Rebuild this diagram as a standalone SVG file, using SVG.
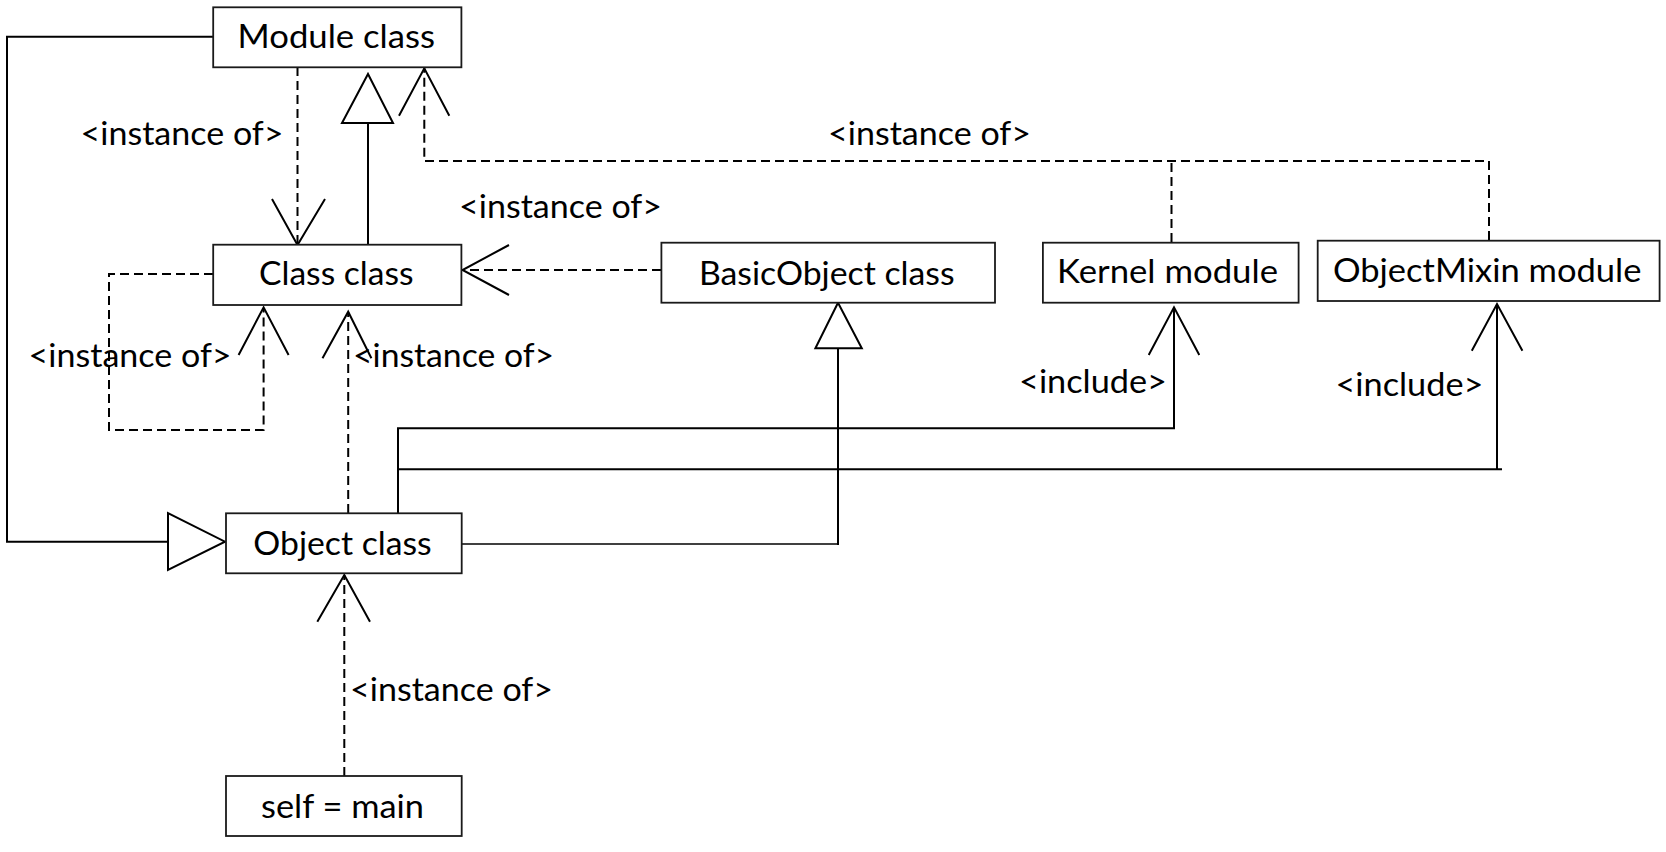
<svg xmlns="http://www.w3.org/2000/svg" width="1666" height="852" viewBox="0 0 1666 852">
<style>
.box{fill:#fff;stroke:#1a1a1a;stroke-width:1.8}
.t{font-family:Lato,"Liberation Sans",sans-serif;font-size:33px;fill:#000;text-anchor:middle}
.l{font-family:Lato,"Liberation Sans",sans-serif;font-size:33px;fill:#000}
.s{fill:none;stroke:#000;stroke-width:2}
.thin{fill:none;stroke:#000;stroke-width:1.3}
.d{fill:none;stroke:#000;stroke-width:2;stroke-dasharray:9,5}
.tri{fill:#fff;stroke:#000;stroke-width:2;stroke-linejoin:miter}
</style>
<rect width="1666" height="852" fill="#fff"/>
<g id="connectors">
  <!-- Module class left line to Object class triangle -->
  <path class="s" d="M213 36.7 H7 V541.7 H168"/>
  <polygon class="tri" points="168,513 168,570 225,541.7"/>
  <!-- Module -> Class instance of -->
  <path class="d" d="M297.5 67 V245"/>
  <path class="s" d="M272 199 L297.5 245 L325 199"/>
  <!-- Class -> Module generalization -->
  <path class="s" d="M368 245 V123"/>
  <polygon class="tri" points="342,123 393,123 368,74"/>
  <!-- Kernel / ObjectMixin -> Module instance of -->
  <path class="d" d="M1171.5 242 V161"/>
  <path class="d" d="M1489 240 V161 H424.3 V68.3"/>
  <path class="s" d="M399 115.7 L424.3 68.3 L449.3 115.7"/>
  <!-- BasicObject -> Class instance of -->
  <path class="d" d="M661 270 H463"/>
  <path class="s" d="M509 245 L462.5 270 L509 295"/>
  <!-- Class self loop -->
  <path class="d" d="M213 274 H109 V430 H263.6 V308"/>
  <path class="s" d="M238.6 355 L263.6 307.3 L288.6 355"/>
  <!-- Object -> Class instance of -->
  <path class="d" d="M348.2 513 V312"/>
  <path class="s" d="M322.5 358.3 L348.2 311.7 L371.4 358.3"/>
  <!-- Object -> BasicObject -->
  <path class="thin" d="M461 544 H838"/>
  <path class="s" d="M838 545 V348.3"/>
  <polygon class="tri" points="815.4,348.3 861.8,348.3 838,302.7"/>
  <!-- Object -> Kernel include -->
  <path class="s" d="M398 513 V428.3 H1174 V307.3"/>
  <path class="s" d="M1148.7 355 L1174 307.3 L1199.3 355"/>
  <!-- Object -> ObjectMixin include -->
  <path class="s" d="M398 469.3 H1502"/>
  <path class="s" d="M1497 469.3 V304"/>
  <path class="s" d="M1471.8 350.7 L1497 304 L1522.4 350.7"/>
  <!-- self -> Object instance of -->
  <path class="d" d="M344.3 776 V575"/>
  <path class="s" d="M317.3 621.7 L344.3 575 L370 621.7"/>
  <!-- labels -->
  <text class="l" x="80.5" y="145" textLength="203" lengthAdjust="spacingAndGlyphs">&lt;instance of&gt;</text>
  <text class="l" x="459" y="218" textLength="203" lengthAdjust="spacingAndGlyphs">&lt;instance of&gt;</text>
  <text class="l" x="828" y="145" textLength="203" lengthAdjust="spacingAndGlyphs">&lt;instance of&gt;</text>
  <text class="l" x="28.6" y="367" textLength="203" lengthAdjust="spacingAndGlyphs">&lt;instance of&gt;</text>
  <text class="l" x="353" y="367" textLength="201" lengthAdjust="spacingAndGlyphs">&lt;instance of&gt;</text>
  <text class="l" x="350" y="701" textLength="203" lengthAdjust="spacingAndGlyphs">&lt;instance of&gt;</text>
  <text class="l" x="1019" y="393" textLength="148" lengthAdjust="spacingAndGlyphs">&lt;include&gt;</text>
  <text class="l" x="1335.4" y="396" textLength="148" lengthAdjust="spacingAndGlyphs">&lt;include&gt;</text>
</g>
<g id="module-class">
  <rect class="box" x="213.2" y="7.3" width="248.2" height="60"/>
  <text class="t" x="336.3" y="48.3" textLength="197.5" lengthAdjust="spacingAndGlyphs">Module class</text>
</g>
<g id="class-class">
  <rect class="box" x="213.2" y="244.7" width="248.2" height="60.3"/>
  <text class="t" x="336.3" y="285" textLength="154.6" lengthAdjust="spacingAndGlyphs">Class class</text>
</g>
<g id="basicobject-class">
  <rect class="box" x="661.4" y="242.7" width="333.6" height="60"/>
  <text class="t" x="826.8" y="285" textLength="255.6" lengthAdjust="spacingAndGlyphs">BasicObject class</text>
</g>
<g id="kernel-module">
  <rect class="box" x="1042.9" y="242.7" width="255.7" height="60"/>
  <text class="t" x="1167.5" y="283" textLength="221" lengthAdjust="spacingAndGlyphs">Kernel module</text>
</g>
<g id="objectmixin-module">
  <rect class="box" x="1317.7" y="240.7" width="341.9" height="60.3"/>
  <text class="t" x="1487.2" y="281.7" textLength="308.6" lengthAdjust="spacingAndGlyphs">ObjectMixin module</text>
</g>
<g id="object-class">
  <rect class="box" x="226" y="513.3" width="235.7" height="60"/>
  <text class="t" x="342.5" y="555" textLength="178.4" lengthAdjust="spacingAndGlyphs">Object class</text>
</g>
<g id="self-main">
  <rect class="box" x="226" y="776" width="235.7" height="60"/>
  <text class="t" x="342.5" y="817.7" textLength="163" lengthAdjust="spacingAndGlyphs">self = main</text>
</g>
</svg>
